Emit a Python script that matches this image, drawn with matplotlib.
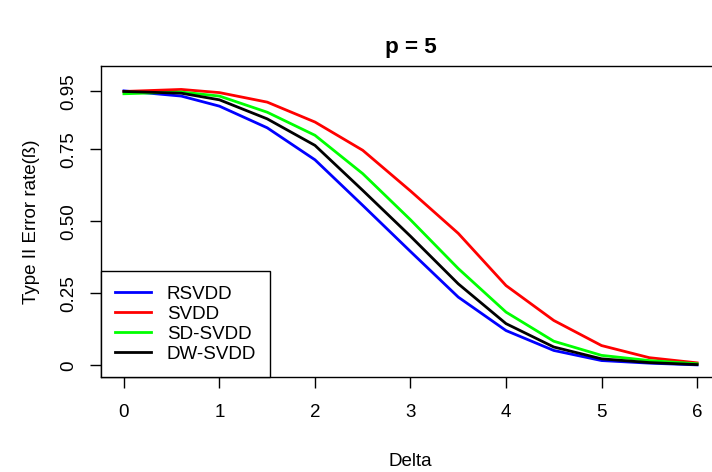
import matplotlib
matplotlib.use("Agg")
import matplotlib.pyplot as plt

delta = [0, 0.6, 1, 1.5, 2, 2.5, 3, 3.5, 4, 4.5, 5, 5.5, 6]
rsvdd = [0.952, 0.934, 0.899, 0.824, 0.713, 0.555, 0.395, 0.237, 0.121, 0.052, 0.017, 0.008, 0.002]
svdd = [0.950, 0.957, 0.946, 0.913, 0.844, 0.746, 0.605, 0.458, 0.277, 0.156, 0.069, 0.027, 0.009]
sdsvdd = [0.942, 0.948, 0.934, 0.878, 0.798, 0.665, 0.505, 0.336, 0.185, 0.084, 0.035, 0.017, 0.006]
dwsvdd = [0.950, 0.944, 0.921, 0.855, 0.763, 0.607, 0.448, 0.283, 0.145, 0.064, 0.023, 0.010, 0.003]
series_names = ["RSVDD", "SVDD", "SD-SVDD", "DW-SVDD"]
series_colors = ["#0000FF", "#FF0000", "#00FF00", "#000000"]
xticks = [0, 1, 2, 3, 4, 5, 6]
yticks = [0, 0.25, 0.50, 0.75, 0.95]
ytick_labels = ["0", "0.25", "0.50", "0.75", "0.95"]

plt.rcParams['font.family'] = ['Liberation Sans', 'DejaVu Sans']
FS = 13.5

fig = plt.figure(figsize=(7.12, 4.72), dpi=100)
ax = fig.add_axes([101/712, 95/472, 619/712, 311.5/472])

for vals, name, col in zip([rsvdd, svdd, sdsvdd, dwsvdd], series_names, series_colors):
    ax.plot(delta, vals, color=col, lw=2.0, label=name, solid_joinstyle='round')

ax.set_xlim(-0.24, 6.24)
ax.set_ylim(-0.04, 1.04)
ax.set_xticks(xticks)
ax.set_xticklabels([str(t) for t in xticks])
ax.set_yticks(yticks)
ax.set_yticklabels(ytick_labels, rotation=90, va='center')
ax.tick_params(axis='both', direction='out', length=8, width=1, labelsize=FS, colors='black')
ax.tick_params(axis='x', pad=11.5)
ax.tick_params(axis='y', pad=9)
for s in ax.spines.values():
    s.set_linewidth(1)

ax.set_xlabel("Delta", fontsize=FS, labelpad=23)
ax.set_ylabel("Type II Error rate(ß)", fontsize=FS, labelpad=15)
ax.set_title("p = 5", fontsize=FS*1.2, fontweight='bold', pad=9)

leg = ax.legend(loc='lower left', bbox_to_anchor=(0, 0), borderaxespad=0,
                fancybox=False, edgecolor='black', framealpha=1,
                fontsize=FS, handlelength=1.9, handletextpad=0.85,
                labelspacing=0.16, borderpad=0.75)
leg.get_frame().set_linewidth(1)

fig.savefig("out.png", dpi=100)
